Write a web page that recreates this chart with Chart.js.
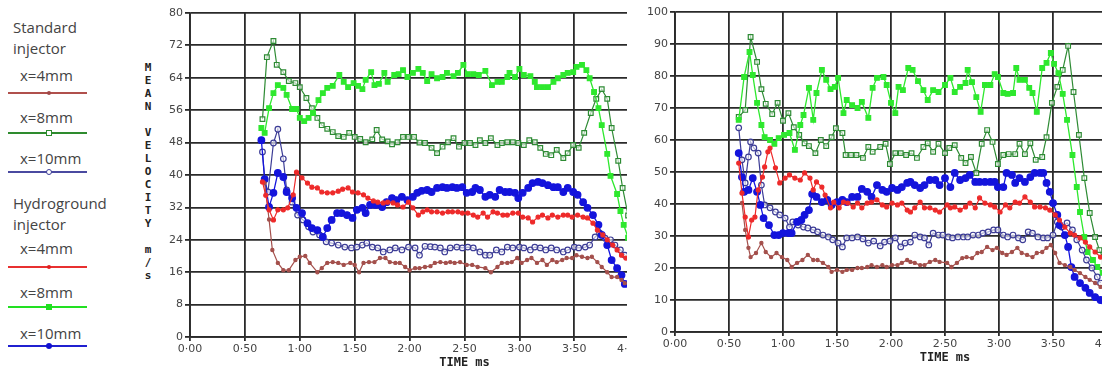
<!DOCTYPE html>
<html>
<head>
<meta charset="utf-8">
<script src="https://cdn.jsdelivr.net/npm/chart.js@4.4.1/dist/chart.umd.min.js"></script>
<style>
  html,body{margin:0;padding:0;background:#fff;width:1102px;height:372px;overflow:hidden;position:relative;}
  .lg{position:absolute;font-family:"Open Sans",sans-serif;font-size:15px;color:#444;line-height:20px;white-space:nowrap;}
  .ln{position:absolute;left:8px;width:79px;height:1.5px;}
  .mk{position:absolute;box-sizing:border-box;}
  .wrap{position:absolute;top:0;overflow:hidden;height:372px;}
  .ytitle{position:absolute;left:143px;font-family:"DejaVu Sans Mono",monospace;font-weight:bold;font-size:11px;color:#222;line-height:13px;text-align:center;width:10px;}
</style>
</head>
<body>
<!-- legend -->
<div class="lg" style="left:13px;top:17px">Standard</div>
<div class="lg" style="left:13px;top:38px">injector</div>
<div class="lg" style="left:20px;top:65px">x=4mm</div>
<div class="ln" style="top:92px;background:#b0504c"></div>
<div class="mk" style="left:47px;top:91px;width:4px;height:4px;border-radius:50%;background:#a04848"></div>
<div class="lg" style="left:20px;top:107px">x=8mm</div>
<div class="ln" style="top:132px;background:#2e8b2e"></div>
<div class="mk" style="left:46px;top:130px;width:6px;height:6px;border:1px solid #2e8b2e;background:#fff"></div>
<div class="lg" style="left:20px;top:148px">x=10mm</div>
<div class="ln" style="top:171px;background:#4a4aa0"></div>
<div class="mk" style="left:46px;top:169px;width:6px;height:6px;border:1px solid #3c3c96;border-radius:50%;background:#fff"></div>
<div class="lg" style="left:13px;top:193px">Hydroground</div>
<div class="lg" style="left:13px;top:214px">injector</div>
<div class="lg" style="left:20px;top:238px">x=4mm</div>
<div class="ln" style="top:266px;background:#e83030"></div>
<div class="mk" style="left:47px;top:265px;width:4px;height:4px;border-radius:50%;background:#e02020"></div>
<div class="lg" style="left:20px;top:282px">x=8mm</div>
<div class="ln" style="top:306px;background:#22e022"></div>
<div class="mk" style="left:46px;top:304px;width:6px;height:6px;background:#22e022"></div>
<div class="lg" style="left:20px;top:323px">x=10mm</div>
<div class="ln" style="top:345px;background:#2020d0"></div>
<div class="mk" style="left:46px;top:343px;width:6px;height:6px;border-radius:50%;background:#1010d0"></div>

<!-- y axis title (stacked letters) -->
<div class="ytitle" style="top:61px">M<br>E<br>A<br>N</div>
<div class="ytitle" style="top:126px">V<br>E<br>L<br>O<br>C<br>I<br>T<br>Y</div>
<div class="ytitle" style="top:243px">m<br>/<br>s</div>

<div class="wrap" style="left:150px;width:477px;"><canvas id="cL" width="609" height="372"></canvas></div>
<div class="wrap" style="left:635px;width:467px;"><canvas id="cR" width="600" height="367"></canvas></div>

<script>
// ---------- axis tick labels ----------
const xTickLabels = ['0·00','0·50','1·00','1·50','2·00','2·50','3·00','3·50','4·00','4·50','5·00'];
const xTitle = 'TIME ms';

// ---------- LEFT chart (max 80) ----------
// Standard injector x=8mm
const lStd8_t = [0.66,0.70,0.76,0.79,0.85,0.90,0.96,1.00,1.06,1.11,
 1.16,1.20,1.25,1.30,1.35,1.40,1.45,1.50,1.55,1.60,
 1.66,1.70,1.75,1.80,1.84,1.89,1.94,1.99,2.04,2.09,
 2.14,2.20,2.25,2.30,2.35,2.40,2.45,2.50,2.55,2.60,
 2.64,2.69,2.74,2.80,2.84,2.89,2.94,2.99,3.04,3.09,
 3.14,3.19,3.24,3.29,3.34,3.40,3.44,3.49,3.54,3.59,
 3.65,3.70,3.75,3.80,3.84,3.90,3.94,3.99];
const lStd8_v = [53.8,69.1,73.1,67.2,65.4,63.2,62.7,61.7,59.0,56.5,
 54.1,52.3,51.4,50.6,49.6,49.4,50.4,49.4,48.9,48.1,
 48.8,51.1,48.8,48.3,47.6,48.1,49.4,49.4,49.4,48.0,
 47.9,46.7,45.4,47.0,48.1,49.1,47.0,47.9,47.9,47.4,
 48.6,47.9,49.1,47.4,47.9,48.1,48.1,47.9,47.4,48.6,
 48.1,46.7,45.2,44.9,46.2,44.2,45.4,47.4,46.7,50.4,
 55.3,58.8,61.2,58.8,51.6,43.5,36.8,30.0];
// Hydroground injector x=8mm
const lHyd8_t = [0.65,0.68,0.72,0.76,0.80,0.85,0.88,0.93,0.97,1.00,
 1.04,1.08,1.12,1.17,1.21,1.25,1.30,1.36,1.40,1.44,
 1.49,1.53,1.57,1.60,1.65,1.68,1.72,1.77,1.80,1.86,
 1.90,1.94,1.98,2.03,2.08,2.12,2.16,2.20,2.25,2.30,
 2.34,2.40,2.44,2.49,2.53,2.58,2.63,2.69,2.75,2.80,
 2.84,2.89,2.91,2.96,3.00,3.04,3.10,3.14,3.16,3.21,
 3.26,3.31,3.35,3.40,3.44,3.49,3.52,3.57,3.61,3.64,
 3.68,3.72,3.75,3.80,3.83,3.89,3.92,3.95,3.99];
const lHyd8_v = [51.6,50.4,56.5,60.2,62.2,61.5,59.8,56.3,56.3,54.1,
 53.3,54.1,55.3,58.5,60.2,61.5,62.0,64.7,63.0,61.7,
 62.7,62.0,61.2,63.5,65.4,62.2,62.5,65.2,63.0,64.7,
 64.9,65.9,64.2,65.2,66.2,65.2,63.2,64.9,63.9,64.2,
 65.2,64.4,65.2,67.2,64.9,64.9,64.7,65.7,62.2,63.0,
 63.0,64.2,65.2,64.2,66.2,64.7,64.4,63.0,61.7,61.7,
 61.7,63.0,63.9,64.7,65.2,65.4,66.7,67.2,65.9,63.9,
 60.5,56.5,52.3,45.2,39.8,35.3,31.1,27.7,24.5];
// Standard injector x=10mm
const lStd10_t = [0.66,0.68,0.71,0.76,0.80,0.85,0.88,0.93,0.98,1.03,
 1.08,1.12,1.18,1.24,1.29,1.35,1.41,1.47,1.52,1.57,
 1.61,1.66,1.71,1.76,1.82,1.87,1.93,1.99,2.05,2.09,
 2.14,2.19,2.23,2.28,2.32,2.37,2.43,2.48,2.53,2.58,
 2.64,2.69,2.73,2.79,2.84,2.89,2.94,3.00,3.04,3.10,
 3.14,3.19,3.24,3.29,3.34,3.40,3.44,3.50,3.54,3.60,
 3.64,3.69,3.73,3.78,3.83,3.87,3.92,3.96];
const lStd10_v = [45.7,38.8,35.8,47.9,51.3,44.0,36.3,33.3,30.1,28.9,
 27.2,25.9,25.2,23.5,23.2,22.7,22.2,22.0,22.2,22.7,
 23.2,22.2,22.0,21.0,21.5,22.0,21.5,22.2,22.0,20.2,
 22.4,22.3,22.2,22.0,21.0,22.0,22.2,22.0,22.2,22.0,
 21.0,20.2,20.2,21.5,21.0,22.2,22.0,22.2,22.0,21.5,
 22.2,22.0,21.5,22.0,21.5,21.0,21.5,22.2,22.0,22.2,
 22.7,24.7,25.7,24.4,24.0,22.7,21.5,20.2];
// Hydroground injector x=10mm
const lHyd10_t = [0.65,0.68,0.72,0.76,0.80,0.85,0.88,0.93,0.97,1.02,
 1.07,1.11,1.16,1.21,1.25,1.29,1.34,1.38,1.43,1.48,
 1.52,1.57,1.60,1.64,1.69,1.75,1.79,1.84,1.88,1.93,
 1.98,2.03,2.07,2.11,2.16,2.20,2.25,2.30,2.34,2.39,
 2.43,2.48,2.52,2.57,2.60,2.64,2.69,2.73,2.78,2.82,
 2.87,2.91,2.96,2.99,3.03,3.08,3.12,3.17,3.21,3.26,
 3.31,3.35,3.40,3.44,3.49,3.53,3.58,3.62,3.67,3.72,
 3.75,3.80,3.84,3.89,3.93,3.96];
const lHyd10_v = [48.6,39.0,32.1,35.6,40.5,39.5,35.8,34.3,31.9,30.6,
 28.1,26.9,26.4,24.7,26.9,28.9,30.6,30.6,30.1,29.4,
 31.4,31.9,30.6,32.6,32.6,32.1,33.3,34.3,33.8,34.6,
 33.8,34.6,35.6,36.1,36.3,35.8,36.8,37.0,36.8,37.0,
 36.8,37.0,35.6,35.8,36.8,36.3,34.6,35.1,34.6,36.3,
 35.8,35.8,35.6,34.3,35.6,36.8,38.0,38.3,38.0,37.5,
 37.0,37.0,35.8,36.8,35.8,35.1,33.3,31.9,30.1,27.7,
 25.2,22.7,19.0,17.0,15.3,13.1];
// Hydroground injector x=4mm
const lHyd4_t = [0.66,0.69,0.72,0.76,0.80,0.85,0.89,0.94,0.97,1.02,
 1.07,1.11,1.16,1.20,1.25,1.30,1.35,1.39,1.44,1.48,
 1.53,1.58,1.62,1.67,1.71,1.76,1.80,1.85,1.89,1.94,
 1.99,2.03,2.08,2.12,2.16,2.20,2.25,2.30,2.35,2.39,
 2.44,2.48,2.53,2.58,2.62,2.67,2.71,2.76,2.80,2.85,
 2.89,2.94,2.99,3.03,3.08,3.12,3.17,3.21,3.26,3.30,
 3.35,3.40,3.44,3.48,3.53,3.58,3.62,3.67,3.71,3.76,
 3.80,3.85,3.89,3.93,3.97];
const lHyd4_v = [38.3,35.0,31.4,28.9,31.4,31.4,31.9,35.1,40.7,39.3,
 38.0,37.0,36.8,35.8,35.6,35.6,36.0,36.5,36.8,35.8,
 35.6,35.1,34.3,33.6,33.3,33.1,33.3,33.1,32.6,32.1,
 33.3,31.9,30.1,30.9,31.4,30.9,30.9,30.6,30.9,30.9,
 30.9,30.6,30.6,30.1,29.6,30.6,29.6,30.9,30.6,30.1,
 30.1,30.6,30.6,29.6,29.4,28.4,29.6,30.1,29.4,30.1,
 29.6,30.1,30.1,29.6,30.1,29.6,29.4,28.1,26.4,25.2,
 24.0,22.7,21.5,20.2,19.5];
// Standard injector x=4mm
const lStd4_t = [0.68,0.72,0.75,0.80,0.85,0.90,0.96,1.00,1.05,1.09,
 1.16,1.20,1.25,1.30,1.35,1.40,1.46,1.50,1.54,1.58,
 1.63,1.68,1.73,1.78,1.82,1.87,1.91,1.96,2.00,2.05,
 2.09,2.14,2.19,2.23,2.28,2.33,2.37,2.41,2.46,2.52,
 2.57,2.62,2.69,2.74,2.80,2.84,2.89,2.93,2.98,3.02,
 3.07,3.11,3.16,3.21,3.25,3.30,3.34,3.39,3.43,3.48,
 3.52,3.57,3.62,3.66,3.71,3.75,3.80,3.84,3.89,3.93,
 3.96];
const lStd4_v = [38.0,29.0,21.5,18.3,16.5,16.5,19.0,19.8,20.0,18.3,
 16.0,17.0,18.3,18.5,18.3,17.8,18.3,17.8,16.0,18.3,
 18.5,18.5,19.5,19.5,18.5,18.3,18.3,17.3,16.5,17.0,
 17.0,17.3,17.5,18.3,18.5,18.3,18.5,18.3,18.5,17.8,
 17.8,17.3,17.0,16.0,17.3,18.3,18.3,18.5,19.5,18.3,
 19.0,19.5,18.3,19.0,17.8,19.0,18.5,19.0,19.5,19.5,
 20.2,19.8,19.5,19.8,18.5,17.3,16.0,14.8,14.8,14.1,
 13.3];

// ---------- RIGHT chart (max 100) ----------
const rStd8_t = [0.59,0.65,0.70,0.76,0.80,0.84,0.90,0.95,1.00,1.05,
 1.10,1.15,1.20,1.24,1.30,1.35,1.40,1.45,1.49,1.55,
 1.58,1.63,1.68,1.74,1.79,1.83,1.90,1.95,1.99,2.04,
 2.09,2.14,2.19,2.24,2.30,2.34,2.39,2.44,2.50,2.54,
 2.59,2.65,2.69,2.74,2.79,2.84,2.89,2.94,2.99,3.04,
 3.09,3.15,3.19,3.24,3.29,3.34,3.40,3.44,3.49,3.54,
 3.59,3.64,3.69,3.74,3.79,3.84,3.89,3.93,3.98];
const rStd8_v = [67.2,69.4,92.2,84.4,75.9,71.3,68.1,71.6,66.0,68.4,
 64.0,61.6,59.0,58.1,55.9,60.0,58.1,60.9,63.7,62.2,
 55.3,55.3,55.3,54.4,57.8,56.3,57.8,58.8,52.5,55.9,
 55.9,55.3,55.9,54.4,57.8,59.0,56.3,58.8,55.9,57.5,
 58.4,54.4,52.8,54.7,49.7,58.8,63.1,59.4,52.5,55.3,
 55.6,55.6,58.8,55.6,59.0,53.8,54.7,60.9,71.6,76.6,
 81.9,89.4,75.0,61.6,48.1,37.2,29.7,25.6,22.0];
const rHyd8_t = [0.59,0.64,0.69,0.72,0.76,0.80,0.83,0.88,0.92,0.96,
 1.01,1.06,1.11,1.16,1.19,1.24,1.28,1.31,1.36,1.40,
 1.44,1.48,1.51,1.56,1.59,1.64,1.69,1.73,1.79,
 1.83,1.87,1.93,1.96,2.00,2.04,2.07,2.11,2.16,2.20,
 2.25,2.30,2.34,2.39,2.44,2.50,2.55,2.59,2.64,2.69,
 2.71,2.75,2.79,2.83,2.87,2.92,2.96,2.99,3.04,3.08,
 3.13,3.16,3.19,3.24,3.28,3.31,3.35,3.40,3.44,3.48,
 3.51,3.55,3.59,3.63,3.68,3.72,3.75,3.79,3.82,3.87,
 3.91,3.96];
const rHyd8_v = [66.3,79.7,87.5,80.3,71.6,64.7,60.9,60.0,58.8,60.6,
 61.6,62.2,56.9,64.7,67.8,76.3,66.3,74.7,81.9,78.8,
 75.9,76.6,79.4,68.4,72.5,70.9,70.0,71.9,66.9,
 76.3,79.4,79.7,77.2,71.6,68.4,76.6,75.6,82.5,81.9,
 78.4,75.6,72.5,75.6,75.0,77.2,79.4,75.0,76.6,77.8,
 81.9,78.1,73.4,68.8,77.2,77.2,80.6,79.7,74.7,74.4,
 74.7,82.5,78.8,78.8,76.3,74.7,68.8,82.5,84.1,87.2,
 83.8,80.9,74.4,66.3,55.3,45.3,37.5,29.7,25.0,22.5,
 20.3,18.5];
const rStd10_t = [0.59,0.62,0.65,0.68,0.70,0.73,0.77,0.80,0.83,0.88,
 0.93,0.97,1.02,1.06,1.09,1.14,1.19,1.23,1.28,1.32,
 1.37,1.42,1.46,1.51,1.55,1.59,1.64,1.69,1.74,1.79,
 1.84,1.90,1.94,1.99,2.04,2.09,2.13,2.18,2.22,2.27,
 2.31,2.35,2.39,2.44,2.48,2.53,2.57,2.62,2.67,2.71,
 2.76,2.81,2.85,2.90,2.95,2.99,3.04,3.08,3.13,3.18,
 3.22,3.27,3.31,3.36,3.41,3.45,3.50,3.54,3.58,3.63,
 3.68,3.72,3.77,3.81,3.86,3.91,3.94];
const rStd10_v = [63.8,53.8,46.6,54.7,59.4,57.5,55.9,45.9,39.7,38.8,
 37.5,36.6,35.6,32.8,34.4,33.4,32.8,32.5,31.9,31.3,
 30.3,29.7,28.8,27.8,26.6,29.4,29.4,29.7,29.1,27.8,
 28.4,26.9,28.1,28.4,29.4,26.6,27.8,28.1,30.3,29.7,
 29.4,27.2,30.9,30.3,30.3,29.7,29.4,29.7,29.7,29.7,
 30.3,30.3,30.9,31.3,31.9,31.9,30.3,29.7,30.3,29.4,
 28.8,31.3,30.9,29.7,29.4,29.4,30.3,34.4,32.8,34.1,
 31.9,28.8,25.6,22.5,20.0,17.2,15.3];
const rHyd10_t = [0.59,0.62,0.64,0.68,0.72,0.76,0.79,0.82,0.87,0.92,
 0.96,1.00,1.05,1.08,1.13,1.17,1.20,1.24,1.27,1.31,
 1.36,1.41,1.45,1.50,1.55,1.59,1.64,1.69,1.73,1.78,
 1.82,1.87,1.92,1.96,2.01,2.06,2.10,2.15,2.18,2.22,
 2.27,2.31,2.36,2.41,2.45,2.50,2.55,2.59,2.64,2.69,
 2.73,2.78,2.82,2.87,2.92,2.96,2.99,3.04,3.07,3.12,
 3.15,3.19,3.24,3.29,3.33,3.38,3.41,3.44,3.47,3.50,
 3.54,3.56,3.61,3.64,3.67,3.70,3.75,3.80,3.84,3.89,
 3.94,3.98];
const rHyd10_v = [55.9,48.4,43.8,44.4,48.1,43.8,39.7,35.6,33.4,30.3,
 30.3,30.9,30.9,30.9,34.4,35.0,36.6,38.1,43.1,42.2,
 40.6,41.3,39.7,40.6,41.3,40.6,42.2,42.2,44.7,43.8,
 42.2,45.9,44.4,43.8,45.0,44.4,45.3,46.6,46.9,45.9,
 45.0,45.9,47.5,47.5,45.9,48.1,45.3,49.7,47.5,48.1,
 49.1,46.9,46.9,46.9,46.9,46.9,45.3,45.3,49.7,49.1,
 46.6,48.1,46.9,48.4,49.7,49.7,49.7,46.6,43.8,40.3,
 36.6,33.4,30.3,26.6,20.3,17.2,15.3,13.8,12.2,10.9,
 10.0,9.5];
const rHyd4_t = [0.59,0.62,0.65,0.68,0.71,0.74,0.77,0.81,0.83,0.86,
 0.88,0.93,0.97,1.02,1.06,1.11,1.16,1.20,1.25,1.28,
 1.31,1.36,1.39,1.44,1.47,1.52,1.56,1.60,1.65,1.69,
 1.73,1.78,1.82,1.87,1.92,1.96,2.01,2.06,2.10,2.15,
 2.18,2.22,2.27,2.31,2.36,2.41,2.45,2.52,2.55,2.59,
 2.64,2.69,2.73,2.78,2.82,2.87,2.92,2.96,3.01,3.06,
 3.10,3.15,3.19,3.24,3.29,3.33,3.38,3.43,3.47,3.52,
 3.56,3.61,3.66,3.70,3.75,3.80,3.84,3.89,3.94];
const rHyd4_v = [52.8,43.4,35.9,29.7,35.0,35.9,44.4,48.4,51.6,56.3,
 57.5,51.3,46.6,48.1,49.1,48.1,47.5,49.7,48.1,44.4,
 46.9,45.3,42.8,38.8,40.6,38.8,40.6,40.3,39.1,40.3,
 38.8,40.3,40.6,41.3,39.7,39.1,40.3,39.7,40.3,38.1,
 37.5,38.8,40.6,38.8,38.8,38.1,37.5,39.7,38.8,39.1,
 38.1,39.1,40.3,38.8,41.9,40.3,39.7,39.1,37.5,39.7,
 38.8,40.6,40.3,42.2,40.6,39.1,39.1,38.8,38.1,36.6,
 35.0,32.8,30.9,30.3,29.4,28.1,26.6,25.0,23.4];
const rStd4_t = [0.62,0.65,0.68,0.70,0.75,0.80,0.84,0.89,0.94,0.99,
 1.04,1.08,1.13,1.18,1.23,1.28,1.32,1.37,1.42,1.45,
 1.50,1.55,1.59,1.64,1.69,1.73,1.78,1.82,1.87,1.92,
 1.96,2.01,2.06,2.10,2.15,2.18,2.22,2.27,2.31,2.36,
 2.41,2.45,2.52,2.56,2.61,2.66,2.70,2.75,2.80,2.84,
 2.89,2.94,2.98,3.03,3.07,3.12,3.17,3.21,3.26,3.31,
 3.35,3.40,3.44,3.48,3.52,3.56,3.61,3.66,3.70,3.75,
 3.80,3.84,3.89,3.94];
const rStd4_v = [40.3,31.9,26.3,23.4,24.7,27.8,25.0,23.4,24.7,23.4,
 22.5,20.3,21.6,22.5,24.1,22.5,22.5,21.6,20.3,18.8,
 19.4,18.8,19.4,19.4,20.0,20.0,20.3,20.9,20.3,20.9,
 20.3,20.9,20.9,21.6,22.5,21.9,21.6,20.9,20.9,21.9,
 22.5,21.9,21.6,20.3,21.6,23.1,23.4,23.1,24.7,25.0,
 26.6,25.6,26.3,24.7,24.1,25.0,26.3,24.7,24.1,23.4,
 24.7,25.0,26.3,27.2,24.7,21.6,20.9,20.3,19.4,18.4,
 17.2,16.3,15.3,14.1];

// ---------- styles ----------
const COL = {
  std4:'#a4504c', std8:'#2e8b34', std10:'#3c3c96',
  hyd4:'#ee2a2a', hyd8:'#2ee82e', hyd10:'#1414dc'
};
function zip(t, v){ return t.map((x,i)=>({x:x, y:v[i]})); }
function ds(t, v, key, style, r, filled, lw){
  return {
    data: zip(t, v), borderColor: COL[key], borderWidth: lw,
    pointStyle: style, pointRadius: r, pointBorderWidth: 1.2,
    pointBorderColor: COL[key],
    pointBackgroundColor: filled ? COL[key] : 'rgba(255,255,255,0.6)',
    tension: 0, fill: false
  };
}
const gridCol = '#2a2a2a';
function makeChart(id, series, yMax, yStep, padTop){
  return new Chart(document.getElementById(id), {
    type: 'line',
    data: { datasets: series },
    options: {
      responsive: false, animation: false,
      layout: { padding: { left: 0, right: 20, top: padTop, bottom: 0 } },
      plugins: { legend: { display: false }, tooltip: { enabled: false } },
      scales: {
        x: {
          type: 'linear', min: 0, max: 5,
          afterFit: s => { s.height = 35; },
          ticks: { stepSize: 0.5, autoSkip: false, maxRotation: 0, padding: 2,
                   color: '#444', font: { family: 'DejaVu Sans', size: 11 },
                   callback: (val, i) => xTickLabels[Math.round(val / 0.5)] },
          grid: { color: gridCol, lineWidth: 1.8, tickLength: 4, tickColor: gridCol },
          border: { color: gridCol, width: 1.8 },
          title: { display: true, text: xTitle, color: '#222',
                   font: { family: 'DejaVu Sans Mono', size: 12, weight: 'bold' },
                   padding: { top: 0, bottom: 2 } }
        },
        y: {
          min: 0, max: yMax,
          afterFit: s => { s.width = 40; },
          ticks: { stepSize: yStep, padding: 2, color: '#444',
                   font: { family: 'DejaVu Sans', size: 11 } },
          grid: { color: gridCol, lineWidth: 1.8, tickLength: 5, tickColor: gridCol },
          border: { color: gridCol, width: 1.8 }
        }
      }
    }
  });
}

makeChart('cL', [
  ds(lHyd4_t, lHyd4_v, 'hyd4', 'circle', 2, true, 1.2),
  ds(lStd4_t, lStd4_v, 'std4', 'circle', 1.6, true, 1.2),
  ds(lHyd10_t, lHyd10_v, 'hyd10', 'circle', 3.3, true, 1.3),
  ds(lStd10_t, lStd10_v, 'std10', 'circle', 2.8, false, 1.2),
  ds(lHyd8_t, lHyd8_v, 'hyd8', 'rect', 3.3, true, 1.3),
  ds(lStd8_t, lStd8_v, 'std8', 'rect', 3.3, false, 1.2)
], 80, 8, 13);

makeChart('cR', [
  ds(rHyd4_t, rHyd4_v, 'hyd4', 'circle', 2, true, 1.2),
  ds(rStd4_t, rStd4_v, 'std4', 'circle', 1.6, true, 1.2),
  ds(rHyd10_t, rHyd10_v, 'hyd10', 'circle', 3.3, true, 1.3),
  ds(rStd10_t, rStd10_v, 'std10', 'circle', 2.8, false, 1.2),
  ds(rHyd8_t, rHyd8_v, 'hyd8', 'rect', 3.3, true, 1.3),
  ds(rStd8_t, rStd8_v, 'std8', 'rect', 3.3, false, 1.2)
], 100, 10, 12);
</script>
</body>
</html>
